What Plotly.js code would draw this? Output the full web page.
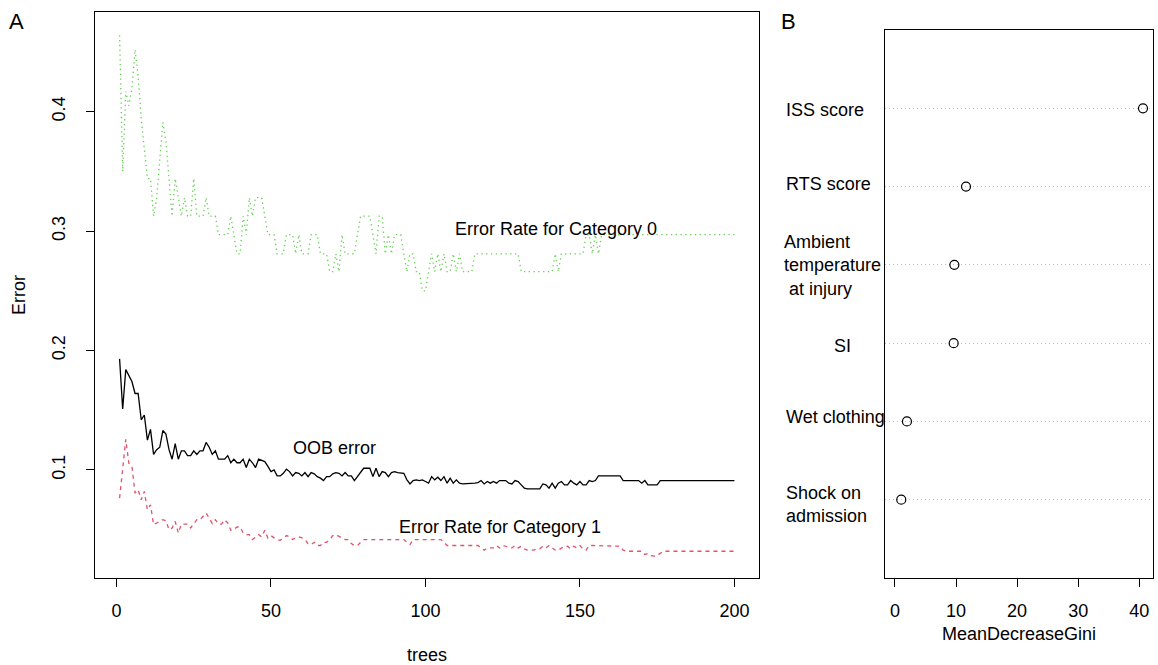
<!DOCTYPE html>
<html><head><meta charset="utf-8">
<script src="https://cdn.plot.ly/plotly-3.0.1.min.js"></script>
<style>html,body{margin:0;padding:0;background:#fff;}#chart{width:1158px;height:665px;}</style>
</head><body><div id="chart"></div>
<script>
// ---------- data ----------
const trees = Array.from({length: 200}, (_, i) => i + 1);

const oobError = [
0.193,0.151,0.184,0.179,0.174,0.164,0.164,0.142,0.146,0.125,
0.134,0.113,0.117,0.119,0.133,0.130,0.117,0.109,0.122,0.109,
0.116,0.116,0.112,0.112,0.116,0.113,0.116,0.116,0.123,0.119,
0.113,0.116,0.109,0.109,0.109,0.112,0.106,0.109,0.106,0.106,
0.109,0.102,0.109,0.106,0.102,0.109,0.108,0.107,0.103,0.0986,
0.100,0.095,0.095,0.0972,0.1006,0.0986,0.095,0.0978,0.0972,0.095,
0.0978,0.0944,0.0978,0.0967,0.0944,0.0931,0.0911,0.0944,0.0944,0.0967,
0.0978,0.0972,0.095,0.0978,0.095,0.095,0.0911,0.0944,0.0986,0.1014,
0.1014,0.1014,0.0944,0.1014,0.0944,0.0986,0.0978,0.0944,0.0978,0.0986,
0.0978,0.0978,0.0972,0.0917,0.0883,0.0911,0.0917,0.0911,0.0917,0.0903,
0.0889,0.0944,0.0917,0.0939,0.0911,0.0944,0.0889,0.0931,0.0889,0.0917,
0.0889,0.0883,0.0883,0.0883,0.0883,0.0889,0.0894,0.0911,0.0883,0.0903,
0.0889,0.0903,0.0889,0.0911,0.0911,0.0911,0.0889,0.0883,0.0911,0.0903,
0.0875,0.0847,0.0842,0.0842,0.0842,0.0842,0.0842,0.0883,0.0875,0.0847,
0.0889,0.0847,0.0889,0.0903,0.0875,0.0875,0.0911,0.0889,0.0875,0.0903,
0.0875,0.0875,0.0911,0.0903,0.0911,0.095,0.095,0.095,0.095,0.095,
0.095,0.095,0.095,0.0911,0.0911,0.0911,0.0911,0.0911,0.0911,0.0889,
0.0911,0.0875,0.0875,0.0875,0.0875,0.0911,0.0911,0.0911,0.0911,0.0911,
0.0911,0.0911,0.0911,0.0911,0.0911,0.0911,0.0911,0.0911,0.0911,0.0911,
0.0911,0.0911,0.0911,0.0911,0.0911,0.0911,0.0911,0.0911,0.0911,0.0911
];

const errorCat0 = [
0.464,0.350,0.417,0.405,0.420,0.452,0.430,0.394,0.369,0.344,
0.344,0.3125,0.328,0.359,0.391,0.375,0.344,0.3125,0.344,0.328,
0.3125,0.328,0.3125,0.3125,0.344,0.3125,0.3125,0.3125,0.328,0.3125,
0.3125,0.3125,0.297,0.297,0.297,0.297,0.3125,0.297,0.281,0.281,
0.3125,0.297,0.328,0.3125,0.328,0.328,0.328,0.3125,0.297,0.297,
0.297,0.281,0.281,0.281,0.297,0.297,0.297,0.281,0.297,0.281,
0.281,0.281,0.297,0.297,0.297,0.281,0.281,0.281,0.266,0.266,
0.281,0.266,0.297,0.281,0.281,0.281,0.281,0.297,0.3125,0.3125,
0.3125,0.3125,0.297,0.281,0.3125,0.3125,0.281,0.297,0.281,0.297,
0.297,0.297,0.281,0.266,0.281,0.281,0.266,0.266,0.25,0.25,
0.266,0.281,0.266,0.281,0.266,0.281,0.266,0.266,0.281,0.266,
0.281,0.266,0.266,0.266,0.266,0.281,0.281,0.281,0.281,0.281,
0.281,0.281,0.281,0.281,0.281,0.281,0.281,0.281,0.281,0.281,
0.266,0.266,0.266,0.266,0.266,0.266,0.266,0.266,0.266,0.266,
0.266,0.281,0.266,0.281,0.281,0.281,0.281,0.281,0.281,0.281,
0.281,0.297,0.297,0.281,0.297,0.281,0.297,0.297,0.297,0.297,
0.297,0.297,0.297,0.297,0.297,0.297,0.297,0.297,0.297,0.297,
0.297,0.297,0.297,0.297,0.297,0.297,0.297,0.297,0.297,0.297,
0.297,0.297,0.297,0.297,0.297,0.297,0.297,0.297,0.297,0.297,
0.297,0.297,0.297,0.297,0.297,0.297,0.297,0.297,0.297,0.297
];

const errorCat1 = [
0.0764,0.1014,0.1256,0.1056,0.103,0.0806,0.0833,0.075,0.082,0.0667,
0.0708,0.0542,0.0556,0.0569,0.0583,0.0575,0.050,0.0514,0.0569,0.0472,
0.0547,0.0547,0.0547,0.0514,0.0547,0.0583,0.0583,0.0611,0.0639,0.0597,
0.055,0.0583,0.0547,0.0547,0.0583,0.0556,0.0494,0.050,0.0522,0.0522,
0.0472,0.0458,0.0458,0.0417,0.0439,0.0458,0.0439,0.0494,0.0431,0.045,
0.0431,0.0417,0.0411,0.0431,0.045,0.0439,0.0417,0.0431,0.0439,0.0431,
0.0417,0.0383,0.0375,0.0394,0.0367,0.0367,0.0394,0.0394,0.0417,0.045,
0.0458,0.0444,0.0431,0.0417,0.0417,0.0383,0.0367,0.0367,0.0394,0.0417,
0.0417,0.0417,0.0417,0.0417,0.0417,0.0417,0.0417,0.0417,0.0417,0.0417,
0.0417,0.0417,0.0417,0.0394,0.0375,0.0417,0.0417,0.0417,0.0417,0.0417,
0.0417,0.0417,0.0417,0.0417,0.0417,0.0394,0.0367,0.0367,0.0367,0.0367,
0.0367,0.0367,0.0367,0.0367,0.0367,0.0367,0.0367,0.0347,0.0328,0.0347,
0.0347,0.0347,0.0367,0.0347,0.0367,0.0361,0.0347,0.0347,0.0367,0.0347,
0.0361,0.0339,0.0328,0.0328,0.0328,0.0339,0.0339,0.0361,0.0347,0.0367,
0.0347,0.0328,0.0328,0.0347,0.0361,0.0361,0.0339,0.0361,0.0347,0.0367,
0.0339,0.0328,0.0367,0.0367,0.0367,0.0367,0.0367,0.0367,0.0367,0.0367,
0.0367,0.0367,0.0361,0.0328,0.0319,0.0319,0.0319,0.0319,0.0319,0.0319,
0.0292,0.030,0.0283,0.0278,0.0283,0.030,0.0319,0.0319,0.0319,0.0319,
0.0319,0.0319,0.0319,0.0319,0.0319,0.0319,0.0319,0.0319,0.0319,0.0319,
0.0319,0.0319,0.0319,0.0319,0.0319,0.0319,0.0319,0.0319,0.0319,0.0319
];

const treeTicks = [0, 50, 100, 150, 200];
const errorTicks = [0.1, 0.2, 0.3, 0.4];

// variable importance (bottom to top)
const varNames = ["Shock on<br>admission", "Wet clothing", "SI", "Ambient<br>temperature<br>\u00a0at injury", "RTS score", "ISS score"];
const varRank = [1, 2, 3, 4, 5, 6];
const giniValues = [1.04, 1.97, 9.62, 9.73, 11.64, 40.6];
const giniTicks = [0, 10, 20, 30, 40];

// ---------- drawing ----------
const W = 1158, H = 665;
const FONT = "Liberation Sans, Arial, Helvetica, sans-serif";
const FS = 18;
const px = v => v / W;
const py = v => 1 - v / H;

const traces = [
  {x: trees, y: oobError, type: "scatter", mode: "lines", xaxis: "x", yaxis: "y",
   line: {color: "#000000", width: 1.3}, hoverinfo: "skip", name: "OOB"},
  {x: trees, y: errorCat1, type: "scatter", mode: "lines", xaxis: "x", yaxis: "y",
   line: {color: "#DF536B", width: 1.3, dash: "4px,4px"}, hoverinfo: "skip", name: "1"},
  {x: trees, y: errorCat0, type: "scatter", mode: "lines", xaxis: "x", yaxis: "y",
   line: {color: "#61D04F", width: 1.3, dash: "1.3px,3.5px"}, hoverinfo: "skip", name: "0"},
  {x: giniValues, y: varRank, type: "scatter", mode: "markers", xaxis: "x2", yaxis: "y2",
   marker: {symbol: "circle-open", size: 9, color: "#000000", line: {width: 1.2, color: "#000000"}},
   hoverinfo: "skip", name: "gini"}
];

const labelX = [784, 784, 832, 782, 784, 784];
const labelShift = [-5, 4, -3, -1, 3, -2];

const annotations = [
  {text: "A", xref: "paper", yref: "paper", x: px(16), y: py(22), showarrow: false,
   xanchor: "center", yanchor: "middle", font: {family: FONT, size: 22, color: "#000"}},
  {text: "B", xref: "paper", yref: "paper", x: px(788), y: py(22), showarrow: false,
   xanchor: "center", yanchor: "middle", font: {family: FONT, size: 22, color: "#000"}},
  {text: "Error Rate for Category 0", xref: "x", yref: "y", x: 142.4, y: 0.302, showarrow: false,
   xanchor: "center", yanchor: "middle", font: {family: FONT, size: FS, color: "#000"}},
  {text: "OOB error", xref: "x", yref: "y", x: 70.4, y: 0.1183, showarrow: false,
   xanchor: "center", yanchor: "middle", font: {family: FONT, size: FS, color: "#000"}},
  {text: "Error Rate for Category 1", xref: "x", yref: "y", x: 124, y: 0.0525, showarrow: false,
   xanchor: "center", yanchor: "middle", font: {family: FONT, size: FS, color: "#000"}}
];
varNames.forEach((name, i) => {
  annotations.push({text: name, xref: "paper", yref: "y2", x: px(labelX[i]), y: varRank[i],
    yshift: labelShift[i], showarrow: false, xanchor: "left", yanchor: "middle", align: "left",
    font: {family: FONT, size: FS, color: "#000"}});
});

const axisCommon = {
  showline: true, mirror: true, linecolor: "#000", linewidth: 1,
  ticks: "outside", ticklen: 8, tickwidth: 1, tickcolor: "#000",
  showgrid: false, zeroline: false, fixedrange: true,
  tickfont: {family: FONT, size: FS, color: "#000"}
};

const layout = {
  width: W, height: H,
  margin: {l: 0, r: 0, t: 0, b: 0},
  paper_bgcolor: "#fff", plot_bgcolor: "#fff",
  showlegend: false,
  font: {family: FONT, size: FS, color: "#000"},
  xaxis: Object.assign({}, axisCommon, {
    domain: [px(95), px(759)], range: [-6.96, 207.96], anchor: "y",
    tickmode: "array", tickvals: treeTicks, ticklabelstandoff: 8,
    title: {text: "trees", standoff: 29, font: {family: FONT, size: FS, color: "#000"}}
  }),
  yaxis: Object.assign({}, axisCommon, {
    domain: [1 - 578 / H, 1 - 12 / H], range: [0.0095, 0.4835], anchor: "x",
    tickmode: "array", tickvals: errorTicks, tickangle: -90, ticklabelstandoff: 14,
    title: {text: "Error", standoff: 18, font: {family: FONT, size: FS, color: "#000"}}
  }),
  xaxis2: Object.assign({}, axisCommon, {
    domain: [px(885), px(1153)], range: [-1.62, 42.24], anchor: "y2",
    tickmode: "array", tickvals: giniTicks, ticklabelstandoff: 8,
    title: {text: "MeanDecreaseGini", standoff: 7, font: {family: FONT, size: FS, color: "#000"}}
  }),
  yaxis2: Object.assign({}, axisCommon, {
    domain: [1 - 578 / H, 1 - 30 / H], range: [0, 7], anchor: "x2",
    tickmode: "array", tickvals: varRank, showticklabels: false, ticks: "",
    showgrid: true, gridcolor: "#C0C0C0", griddash: "1px,3px", gridwidth: 1
  }),
  annotations: annotations
};

Plotly.newPlot("chart", traces, layout, {staticPlot: true, displayModeBar: false});
</script>
</body></html>
